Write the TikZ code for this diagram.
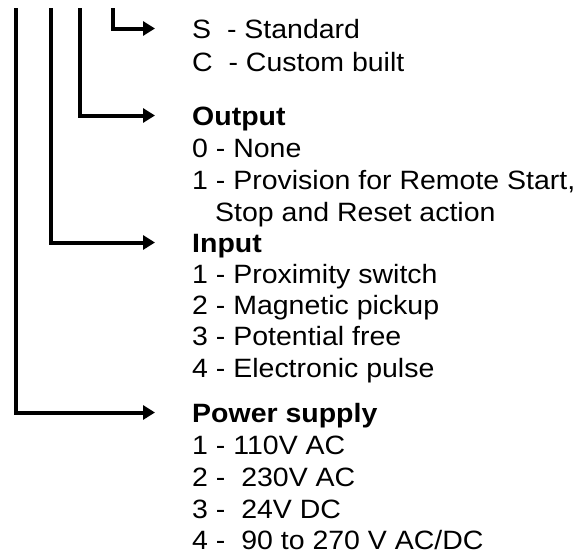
\documentclass[tikz,border=0pt]{standalone}
\usepackage{fontspec}
\setmainfont[FakeStretch=1.075]{Liberation Sans}
\usetikzlibrary{arrows.meta}

\begin{document}
\begin{tikzpicture}[x=1pt, y=-1pt,
		lead/.style={line width=4pt, -{Triangle[length=12pt, width=14pt]}, shorten >=37pt},
		head/.style={anchor=base west, inner sep=0pt, text height=19pt, text depth=0pt, font=\bfseries\fontsize{26.5}{32}\selectfont},
		item/.style={anchor=base west, inner sep=0pt, font=\fontsize{26.5}{32}\selectfont}]
		\useasboundingbox (0,0) rectangle (582,554);

		% Top ends of the code lines
		\coordinate (p1) at (16,8);
		\coordinate (p2) at (51,8);
		\coordinate (p3) at (80,8);
		\coordinate (p4) at (113,8);

		% Version
		\node[item, text height=19pt, text depth=0pt] (std) at (192,38) {S\ \ - Standard};
		\node[item] (cst) at (192,71) {C\ \ - Custom built};

		% Output
		\node[head] (out) at (192,125) {Output};
		\node[item] (out0) at (192,157) {0 - None};
		\node[item] (out1) at (192,189) {1 - Provision for Remote Start,};
		\node[item] (out1b) at (215,221) {Stop and Reset action};

		% Input
		\node[head] (inp) at (192,252) {Input};
		\node[item] (inp1) at (192,283) {1 - Proximity switch};
		\node[item] (inp2) at (192,314) {2 - Magnetic pickup};
		\node[item] (inp3) at (192,345) {3 - Potential free};
		\node[item] (inp4) at (192,377) {4 - Electronic pulse};

		% Power supply
		\node[head] (psu) at (192,422) {Power supply};
		\node[item] (psu1) at (192,454) {1 - 110V AC};
		\node[item] (psu2) at (192,486) {2 -\ \ 230V AC};
		\node[item] (psu3) at (192,518) {3 -\ \ 24V DC};
		\node[item] (psu4) at (192,549) {4 -\ \ 90 to 270 V AC/DC};

		% Leads from the code lines
		\draw[lead] (p4) |- (std.west);
		\draw[lead] (p3) |- (out.west);
		\draw[lead] (p2) |- (inp.west);
		\draw[lead] (p1) |- (psu.west);
	\end{tikzpicture}
\end{document}
